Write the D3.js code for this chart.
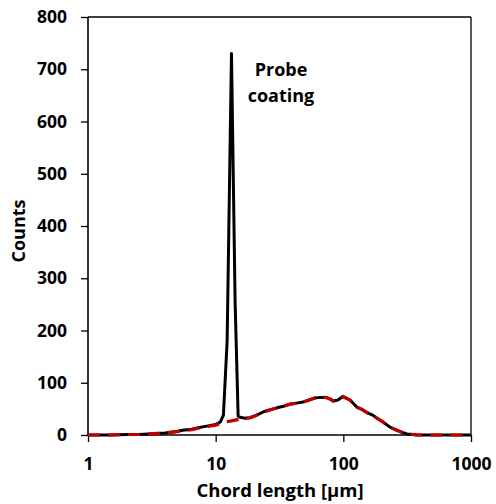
<!DOCTYPE html>
<html>
<head>
<meta charset="utf-8">
<script src="https://cdn.jsdelivr.net/npm/d3@7"></script>
<style>
  html, body { margin: 0; padding: 0; background: #fff; }
  svg text { font-family: "Open Sans", "Liberation Sans", sans-serif; font-weight: 700; fill: #000; }
</style>
</head>
<body>
<svg id="chart" width="496" height="504"></svg>
<script>
// ---- data ----
const measuredChord = [1.0, 1.5, 2.0, 2.5, 3.0, 3.5, 4.0, 4.8, 5.5, 6.5, 7.3, 8.5, 10.0, 10.9, 11.5, 12.3, 13.3, 14.2, 15.0, 15.5, 17.0, 18.6, 21.0, 23.5, 26.5, 30.2, 34.0, 38.2, 43.0, 48.3, 54.0, 60.0, 66.0, 73.0, 80.0, 83.0, 90.8, 99.4, 112.8, 128.0, 140.0, 153.0, 170.0, 183.6, 204.6, 232.0, 263.0, 290.0, 315.0, 350.0, 377.0, 450.0, 600.0, 800.0, 1000.0];
const measuredCounts = [0, 0, 1, 1, 2, 3, 4, 6, 9, 11, 14, 17, 20, 25, 38, 180, 730, 255, 36, 34, 32, 33, 38, 44, 48, 52, 55, 59, 61, 63, 67, 71, 72, 72, 68, 65, 67, 74, 67, 53, 49, 43, 38, 32, 25, 15, 9, 5, 2, 1, 0, 0, 0, 0, 0];
const fitChord = [1.0, 1.5, 2.0, 2.5, 3.0, 3.5, 4.0, 4.8, 5.5, 6.5, 7.3, 8.5, 10.0, 11.0, 12.0, 13.3, 14.5, 16.0, 17.0, 18.6, 21.0, 23.5, 26.5, 30.2, 34.0, 38.2, 43.0, 48.3, 54.0, 60.0, 66.0, 73.0, 80.0, 83.0, 90.8, 99.4, 112.8, 128.0, 140.0, 153.0, 170.0, 183.6, 204.6, 232.0, 263.0, 290.0, 315.0, 350.0, 377.0, 450.0, 600.0, 800.0, 1000.0];
const fitCounts = [0, 0, 1, 1, 2, 3, 4, 6, 8, 10, 13, 16, 19, 22, 25, 27, 29, 31, 32, 33, 38, 44, 48, 52, 55, 59, 61, 63, 67, 71, 72, 72, 68, 65, 67, 73, 67, 53, 49, 43, 38, 32, 25, 15, 9, 5, 2, 1, 0, 0, 0, 0, 0];
const xTicks = [1, 10, 100, 1000];
const yTicks = [0, 100, 200, 300, 400, 500, 600, 700, 800];
const xTitle = "Chord length [µm]";
const yTitle = "Counts";
const annotation = ["Probe", "coating"];

// ---- layout ----
const svg = d3.select("#chart");
const mLeft = 88, mRight = 471, mTop = 17, mBottom = 435;
const x = d3.scaleLog().domain([1, 1000]).range([mLeft, mRight]);
const y = d3.scaleLinear().domain([0, 800]).range([mBottom, mTop]);

// frame (top + right)
svg.append("line").attr("x1", mLeft).attr("x2", mRight).attr("y1", mTop).attr("y2", mTop)
  .attr("stroke", "#000").attr("stroke-width", 1.3);
svg.append("line").attr("x1", mRight).attr("x2", mRight).attr("y1", mTop).attr("y2", mBottom)
  .attr("stroke", "#000").attr("stroke-width", 1.3);

// axes
const yAxis = svg.append("g").attr("transform", `translate(${mLeft},0)`)
  .call(d3.axisLeft(y).tickValues(yTicks).tickSize(7).tickPadding(14).tickFormat(d3.format("d")));
const xAxis = svg.append("g").attr("transform", `translate(0,${mBottom})`)
  .call(d3.axisBottom(x).tickValues(xTicks).tickSize(7).tickPadding(16).tickFormat(d3.format("d")));
[yAxis, xAxis].forEach(g => {
  g.select(".domain").attr("stroke", "#000").attr("stroke-width", 1.6);
  g.selectAll(".tick line").attr("stroke", "#000").attr("stroke-width", 1.3);
  g.selectAll(".tick text").attr("font-size", 17.5).attr("font-family", "'Open Sans', sans-serif").attr("font-weight", 700).attr("fill", "#000");
});
yAxis.select(".domain").attr("d", `M0,${mBottom}V${mTop}`);
xAxis.select(".domain").attr("d", `M${mLeft},0H${mRight}`);

// lines
const line = d3.line().x(d => x(d[0])).y(d => y(d[1]));
const measured = measuredChord.map((c, i) => [c, measuredCounts[i]]);
const fit = fitChord.map((c, i) => [c, fitCounts[i]]);

svg.append("path").datum(measured).attr("d", line)
  .attr("fill", "none").attr("stroke", "#000").attr("stroke-width", 3)
  .attr("stroke-linejoin", "round");
svg.append("path").datum(fit).attr("d", line)
  .attr("fill", "none").attr("stroke", "#C00000").attr("stroke-width", 3.2)
  .attr("stroke-dasharray", "12,8");

// titles
svg.append("text").attr("x", 280).attr("y", 497)
  .attr("text-anchor", "middle").attr("font-size", 18.5).text(xTitle);
svg.append("text").attr("transform", `translate(25,${(mTop + mBottom) / 2 + 5}) rotate(-90)`)
  .attr("text-anchor", "middle").attr("font-size", 18).text(yTitle);

// annotation
svg.append("text").attr("x", 281).attr("y", 76).attr("text-anchor", "middle")
  .attr("font-size", 18).text(annotation[0]);
svg.append("text").attr("x", 281).attr("y", 102).attr("text-anchor", "middle")
  .attr("font-size", 18).text(annotation[1]);
</script>
</body>
</html>
